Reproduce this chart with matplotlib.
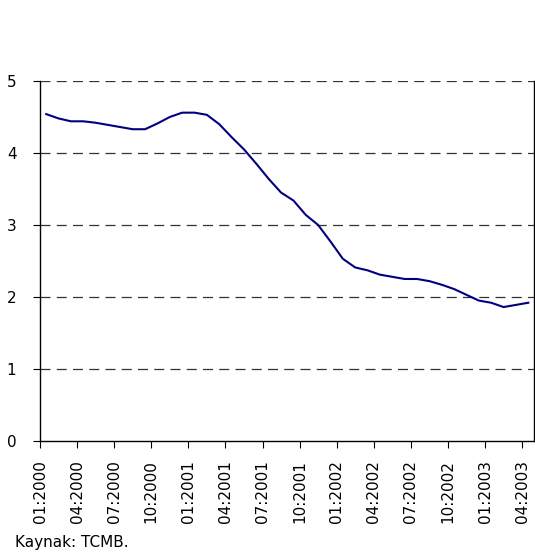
import numpy as np
import matplotlib.pyplot as plt

# monthly values, 01:2000 - 04:2003
months = [f"{m:02d}:{y}" for y in range(2000, 2004) for m in range(1, 13)][:40]
values = [4.54, 4.48, 4.44, 4.44, 4.42, 4.39, 4.36, 4.33, 4.33, 4.41,
          4.50, 4.56, 4.56, 4.53, 4.40, 4.22, 4.05, 3.85, 3.64, 3.45,
          3.34, 3.14, 3.00, 2.77, 2.53, 2.41, 2.37, 2.31, 2.28, 2.25,
          2.25, 2.22, 2.17, 2.11, 2.03, 1.95, 1.92, 1.86, 1.89, 1.92]
tick_labels = months[::3]

fig = plt.figure(figsize=(5.35, 5.57), dpi=100)
ax = fig.add_axes([0.0748, 0.2083, 0.9242, 0.6463])

x = np.arange(len(values))
ax.plot(x, values, color='#000080', lw=1.5)

ax.set_xlim(-0.5, len(values) - 0.5)
ax.set_ylim(0, 5)
ax.set_yticks(range(0, 6))
for v in range(1, 6):
    ax.axhline(v, color='#333333', lw=0.9, ls=(0, (8, 5)), zorder=0)

tick_pos = np.arange(len(tick_labels)) * 3 - 0.5
ax.set_xticks(tick_pos)
ax.set_xticklabels(tick_labels, rotation=90, fontsize=11)
ax.tick_params(axis='y', labelsize=11, length=5, pad=12)
ax.tick_params(axis='x', length=5, pad=9)

ax.spines['top'].set_visible(False)
for s in ['left', 'bottom', 'right']:
    ax.spines[s].set_linewidth(1)

fig.text(0.028, 0.012, 'Kaynak: TCMB.', fontsize=11, va='bottom')

fig.savefig('out.png', dpi=100)
